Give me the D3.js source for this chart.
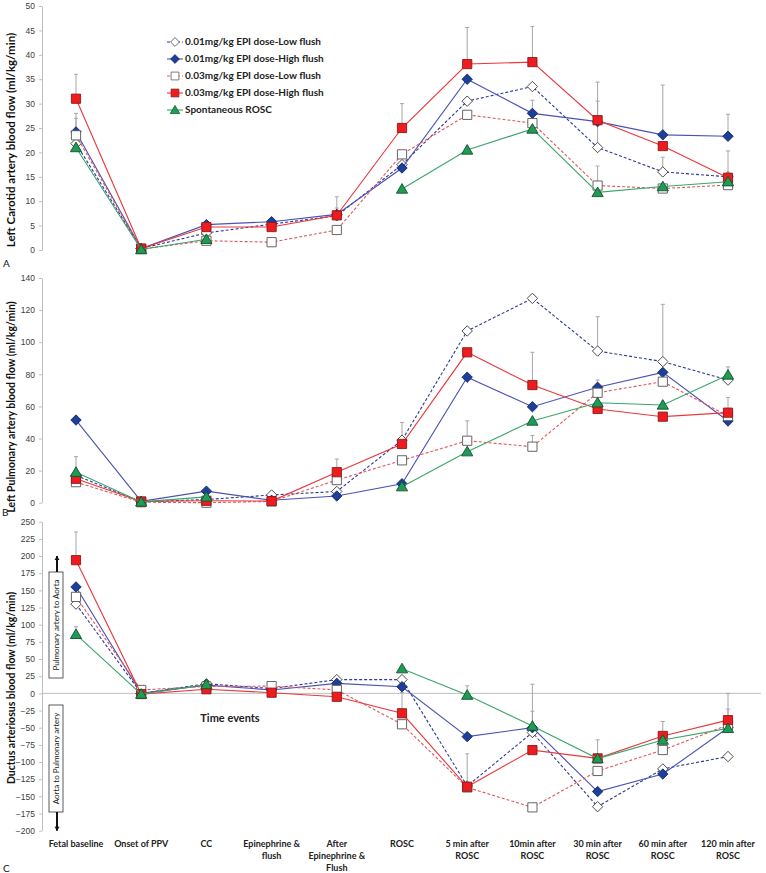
<!DOCTYPE html>
<html><head><meta charset="utf-8">
<script src="https://cdn.jsdelivr.net/npm/d3@7/dist/d3.min.js"></script>
<style>body{margin:0;background:#fff} svg{display:block}</style>
</head><body><svg id="c" width="766" height="873"></svg>
<script>
// ---------- DATA ----------
const categories = ["Fetal baseline","Onset of PPV","CC","Epinephrine & flush","After Epinephrine & Flush","ROSC","5 min after ROSC","10min after ROSC","30 min after ROSC","60 min after ROSC","120 min after ROSC"];
const categoryLines = [["Fetal baseline"],["Onset of PPV"],["CC"],["Epinephrine &","flush"],["After","Epinephrine &","Flush"],["ROSC"],["5 min after","ROSC"],["10min after","ROSC"],["30 min after","ROSC"],["60 min after","ROSC"],["120 min after","ROSC"]];
const seriesNames = ["0.01mg/kg EPI dose-Low flush","0.01mg/kg EPI dose-High flush","0.03mg/kg EPI dose-Low flush","0.03mg/kg EPI dose-High flush","Spontaneous ROSC"];

// Panel A: Left carotid artery blood flow
const carotidLow01  = [21.8, 0.3, 3.5, 5.3, 7.0, 17.5, 30.5, 33.5, 21.0, 16.0, 15.0];
const carotidHigh01 = [24.2, 0.3, 5.2, 5.8, 7.3, 16.8, 35.0, 28.0, 26.3, 23.6, 23.3];
const carotidLow03  = [23.5, 0.2, 1.9, 1.6, 4.1, 19.6, 27.7, 26.0, 13.2, 12.6, 13.3];
const carotidHigh03 = [31.0, 0.3, 4.7, 4.7, 7.1, 25.0, 38.1, 38.5, 26.6, 21.3, 14.8];
const carotidSpont  = [21.0, 0.1, 2.2, null, null, 12.5, 20.5, 24.8, 11.8, 13.0, 14.0];
const carotidErrLow01  = [null,null,null,null,null,null,null,null,9.5,3.0,null];
const carotidErrHigh01 = [3.8,null,null,null,1.3,null,null,null,null,10.2,4.5];
const carotidErrLow03  = [3.5,null,null,null,null,null,null,4.7,4.0,null,null];
const carotidErrHigh03 = [5.0,null,null,null,3.8,5.0,7.5,7.3,7.8,null,5.5];
const carotidErrSpont  = [null,null,null,null,null,null,null,null,null,null,null];

// Panel B: Left pulmonary artery blood flow
const pulmLow01  = [17.0, 0.5, 2.0, 4.8, 7.0, 39.0, 107.0, 127.3, 94.5, 87.9, 76.4];
const pulmHigh01 = [51.5, 0.8, 7.2, 1.5, 4.2, 11.8, 78.2, 59.8, 71.9, 81.2, 50.9];
const pulmLow03  = [12.8, 0.3, 0.0, 0.8, 14.1, 26.4, 38.6, 34.9, 68.5, 75.4, 54.0];
const pulmHigh03 = [14.9, 0.8, 1.2, 1.0, 19.0, 36.6, 93.7, 73.3, 58.4, 53.6, 56.1];
const pulmSpont  = [19.0, 0.5, 3.6, null, null, 10.0, 31.8, 50.9, 62.3, 60.9, 79.6];
const pulmErrLow01  = [null,null,null,null,null,null,1.5,null,21.4,35.7,null];
const pulmErrHigh01 = [null,null,null,null,null,null,null,null,null,null,null];
const pulmErrLow03  = [null,null,null,null,null,null,12.4,7.0,7.9,null,null];
const pulmErrHigh03 = [null,null,null,null,8.2,13.4,null,20.4,null,null,9.5];
const pulmErrSpont  = [9.7,null,null,null,null,null,null,null,null,null,5.0];

// Panel C: Ductus arteriosus blood flow
const ductLow01  = [130, 0, 14, 7, 20, 20, -135, -57, -165, -110, -92];
const ductHigh01 = [155, 0, 12, 5, 14.6, 9.7, -63, -50, -143, -117.5, -50];
const ductLow03  = [140.5, 5, 10, 10.6, 5, -45, -137, -166, -113, -82.5, -46];
const ductHigh03 = [194, -1, 6, 1, -5, -29, -136, -82.6, -94.7, -62, -39];
const ductSpont  = [86, -1, 13, null, null, 36, -2.5, -47.6, -95, -68, -51];
const ductErrLow01  = [null,null,null,null,null,null,null,31,null,null,null];
const ductErrHigh01 = [null,null,null,null,null,null,null,null,null,null,null];
const ductErrLow03  = [null,null,null,null,null,null,null,null,null,null,23];
const ductErrHigh03 = [41,null,null,null,null,30,48,null,27,21,39];
const ductErrSpont  = [11,null,null,null,null,null,13.5,61,null,null,null];

const carotidTicks = d3.range(0, 51, 5);
const pulmTicks = d3.range(0, 141, 20);
const ductTicks = d3.range(-200, 251, 25);

// ---------- STYLES ----------
const styles = [
  {marker:"diamond", fill:"#ffffff", stroke:"#3a3a3a", line:"#2c3a96", dash:"3,2", lw:1.1},
  {marker:"diamond", fill:"#1d3f9a", stroke:"#14286a", line:"#4a52b2", dash:null, lw:1.1},
  {marker:"square",  fill:"#ffffff", stroke:"#555555", line:"#e0585a", dash:"3,2", lw:1.1},
  {marker:"square",  fill:"#ee1b1f", stroke:"#8a1a1a", line:"#e8383c", dash:null, lw:1.1},
  {marker:"triangle",fill:"#1e9b55", stroke:"#14502e", line:"#3aa56b", dash:null, lw:1.1}
];
function markerPath(type){
  if(type==="diamond") return "M0,-5.2L5.2,0L0,5.2L-5.2,0Z";
  if(type==="square") return "M-4.6,-4.6H4.6V4.6H-4.6Z";
  return "M0,-5.4L5.6,4.2H-5.6Z";
}

const svg = d3.select("#c");
const x = d3.scalePoint().domain(categories).range([76, 728]);
const axisX = 42, plotRight = 761;

const panels = [
  {y:d3.scaleLinear().domain([0,50]).range([250,6]), ticks:carotidTicks,
   series:[carotidLow01,carotidHigh01,carotidLow03,carotidHigh03,carotidSpont],
   errs:[carotidErrLow01,carotidErrHigh01,carotidErrLow03,carotidErrHigh03,carotidErrSpont],
   title:"Left  Carotid artery blood flow (ml/kg/min)", tx:12, ty:140, tfs:11.5, label:"A", lx:3, ly:267, zero:false},
  {y:d3.scaleLinear().domain([0,140]).range([502.7,278]), ticks:pulmTicks,
   series:[pulmLow01,pulmHigh01,pulmLow03,pulmHigh03,pulmSpont],
   errs:[pulmErrLow01,pulmErrHigh01,pulmErrLow03,pulmErrHigh03,pulmErrSpont],
   title:"Left Pulmonary artery blood flow (ml/kg/min)", tx:12, ty:407, tfs:10.5, label:"B", lx:2, ly:516, zero:false},
  {y:d3.scaleLinear().domain([-200,250]).range([830.7,521.7]), ticks:ductTicks,
   series:[ductLow01,ductHigh01,ductLow03,ductHigh03,ductSpont],
   errs:[ductErrLow01,ductErrHigh01,ductErrLow03,ductErrHigh03,ductErrSpont],
   title:"Ductus arteriosus blood flow (ml/kg/min)", tx:12, ty:688, tfs:10.5, label:"C", lx:3, ly:872, zero:true}
];

panels.forEach(p => {
  const g = svg.append("g");
  // axis
  const ax = g.append("g").attr("transform", `translate(${axisX},0)`)
    .call(d3.axisLeft(p.y).tickValues(p.ticks).tickSize(3).tickSizeOuter(0).tickPadding(4));
  ax.select(".domain").attr("stroke", "#bfbfbf");
  ax.selectAll(".tick line").attr("stroke", "#bfbfbf");
  ax.selectAll(".tick text").attr("fill", "#404040").style("font-family", "'Liberation Sans', Arial, sans-serif").style("font-size", "8.5px");
  if (p.zero) {
    g.append("line").attr("x1", axisX).attr("x2", plotRight)
      .attr("y1", p.y(0)).attr("y2", p.y(0)).attr("stroke", "#bfbfbf").attr("stroke-width", 1);
  }
  // y title
  g.append("text").attr("transform", `translate(${p.tx},${p.ty}) rotate(-90)`)
    .attr("text-anchor", "middle").attr("dominant-baseline", "middle")
    .style("font-family", "Lato, 'Open Sans', sans-serif").style("font-weight", "bold")
    .style("font-size", p.tfs + "px").attr("fill", "#111").text(p.title);
  // panel label
  g.append("text").attr("x", p.lx).attr("y", p.ly)
    .style("font-family", "Lato, sans-serif").style("font-size", "10px").attr("fill", "#111").text(p.label);

  // error bars
  p.errs.forEach((errArr, si) => {
    errArr.forEach((e, i) => {
      const v = p.series[si][i];
      if (e == null || v == null) return;
      const cx = x(categories[i]);
      g.append("line").attr("x1", cx).attr("x2", cx).attr("y1", p.y(v)).attr("y2", p.y(v + e))
        .attr("stroke", "#a6a6a6").attr("stroke-width", 1);
      g.append("line").attr("x1", cx - 2).attr("x2", cx + 2).attr("y1", p.y(v + e)).attr("y2", p.y(v + e))
        .attr("stroke", "#a6a6a6").attr("stroke-width", 1);
    });
  });

  // series
  p.series.forEach((vals, si) => {
    const st = styles[si];
    const pts = vals.map((v, i) => ({c: categories[i], v}));
    const line = d3.line().defined(d => d.v != null).x(d => x(d.c)).y(d => p.y(d.v));
    g.append("path").datum(pts).attr("d", line).attr("fill", "none")
      .attr("stroke", st.line).attr("stroke-width", st.lw)
      .attr("stroke-dasharray", st.dash);
    g.selectAll(null).data(pts.filter(d => d.v != null)).enter().append("path")
      .attr("d", markerPath(st.marker))
      .attr("transform", d => `translate(${x(d.c)},${p.y(d.v)})`)
      .attr("fill", st.fill).attr("stroke", st.stroke).attr("stroke-width", 0.9);
  });
});

// legend (panel A)
const lg = svg.append("g");
seriesNames.forEach((name, i) => {
  const st = styles[i];
  const yy = 42 + i * 17;
  lg.append("line").attr("x1", 167).attr("x2", 183).attr("y1", yy).attr("y2", yy)
    .attr("stroke", st.line).attr("stroke-width", st.lw).attr("stroke-dasharray", st.dash);
  lg.append("path").attr("d", markerPath(st.marker)).attr("transform", `translate(175,${yy}) scale(0.85)`)
    .attr("fill", st.fill).attr("stroke", st.stroke).attr("stroke-width", 0.9);
  lg.append("text").attr("x", 185).attr("y", yy).attr("dominant-baseline", "middle")
    .style("font-family", "Lato, sans-serif").style("font-weight", "bold").style("font-size", "10px")
    .attr("fill", "#222").text(name);
});

// x category labels (bottom)
const xl = svg.append("g");
categoryLines.forEach((lines, i) => {
  const t = xl.append("text").attr("text-anchor", "middle")
    .style("font-family", "Lato, sans-serif").style("font-weight", "bold").style("font-size", "9px").attr("fill", "#222");
  lines.forEach((ln, k) => {
    t.append("tspan").attr("x", x(categories[i])).attr("y", 847 + k * 12).text(ln);
  });
});

// "Time events"
svg.append("text").attr("x", 230).attr("y", 722).attr("text-anchor", "middle")
  .style("font-family", "Lato, sans-serif").style("font-weight", "bold").style("font-size", "11px")
  .attr("fill", "#222").text("Time events");

// direction annotations in panel C
const yC = panels[2].y;
const ann = svg.append("g");
const boxes = [
  {y0: 572, y1: 678, text: "Pulmonary artery to Aorta", arrowFrom: 572, arrowTo: yC(200)},
  {y0: 705, y1: 812, text: "Aorta to Pulmonary artery", arrowFrom: 812, arrowTo: yC(-200)}
];
boxes.forEach(b => {
  ann.append("rect").attr("x", 49).attr("y", b.y0).attr("width", 14).attr("height", b.y1 - b.y0)
    .attr("fill", "#fff").attr("stroke", "#333").attr("stroke-width", 0.8);
  ann.append("text").attr("transform", `translate(57,${(b.y0 + b.y1) / 2}) rotate(-90)`)
    .attr("text-anchor", "middle").attr("dominant-baseline", "middle")
    .style("font-family", "Lato, sans-serif").style("font-size", "8px").attr("fill", "#222").text(b.text);
  ann.append("line").attr("x1", 57).attr("x2", 57).attr("y1", b.arrowFrom).attr("y2", b.arrowTo)
    .attr("stroke", "#111").attr("stroke-width", 2);
  const dir = b.arrowTo < b.arrowFrom ? -1 : 1;
  ann.append("path").attr("d", `M${57-2.5},${b.arrowTo - dir*4}L57,${b.arrowTo}L${57+2.5},${b.arrowTo - dir*4}Z`).attr("fill", "#111");
});
</script>
</body></html>
